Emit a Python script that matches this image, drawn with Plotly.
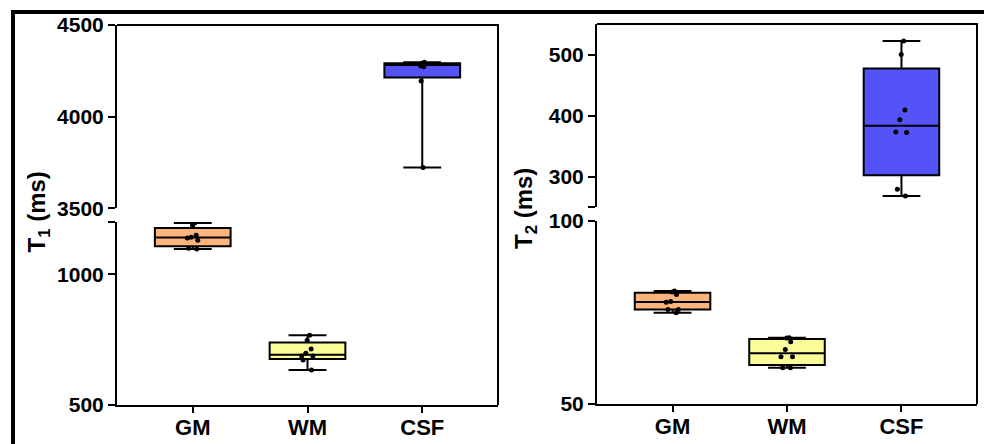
import numpy as np
import plotly.graph_objects as go

# ---------------- data ----------------
categories = ["GM", "WM", "CSF"]
box_colors = ["#FBB47C", "#FCFC98", "#5353F7"]

t1_gm = [1097, 1100, 1130, 1139, 1142, 1149, 1187, 1196]
t1_wm = [634, 672, 687, 687, 698, 714, 748, 767]
t1_csf = [3722, 4195, 4272, 4278, 4285, 4288, 4292, 4297]

t2_gm = [74.9, 75.8, 75.8, 77.8, 78.0, 79.9, 80.6, 80.9]
t2_wm = [59.9, 59.9, 62.9, 62.9, 64.9, 67.0, 68.0, 68.1]
t2_csf = [268, 279, 372, 373, 393, 409, 500, 522]

t1_lower_ticks = [500, 1000]
t1_lower_break = [1200]
t1_upper_ticks = [3500, 4000, 4500]
t2_lower_ticks = [50, 100]
t2_upper_ticks = [300, 400, 500]
t2_upper_break = [250]

t1_lower_range = [500, 1200]
t1_upper_range = [3500, 4500]
t2_lower_range = [50, 100]
t2_upper_range = [250, 550]

# ---------------- layout helpers ----------------
# the page body has an 8px margin, so the figure is 8px smaller than the window
OX, OY = 8, 8
W, H = 992 - OX, 444 - OY


def px_x(p):
    return (p - OX) / W


def px_y(p):
    return (H - (p - OY)) / H


FONT = "Liberation Sans, Arial, sans-serif"
BOX_W = 0.66


def stats(vals):
    v = np.asarray(vals, dtype=float)
    q1 = float(np.percentile(v, 25, method="weibull"))
    med = float(np.percentile(v, 50, method="weibull"))
    q3 = float(np.percentile(v, 75, method="weibull"))
    return q1, med, q3, float(v.min()), float(v.max())


fig = go.Figure()


def add_box(cat, vals, color, xa, ya):
    q1, med, q3, lo, hi = stats(vals)
    fig.add_trace(go.Box(
        x=[cat], q1=[q1], median=[med], q3=[q3], lowerfence=[lo], upperfence=[hi],
        width=BOX_W, fillcolor=color, line=dict(color="black", width=2),
        whiskerwidth=0.5, boxpoints=False, showlegend=False,
        xaxis=xa, yaxis=ya, hoverinfo="skip"))
    fig.add_trace(go.Box(
        x=[cat] * len(vals), y=vals, width=BOX_W,
        fillcolor="rgba(0,0,0,0)", line=dict(color="rgba(0,0,0,0)", width=0),
        boxpoints="all", jitter=0.2, pointpos=0,
        marker=dict(color="black", size=5, line=dict(width=0)),
        showlegend=False, xaxis=xa, yaxis=ya))


# left panel: T1
add_box("GM", t1_gm, box_colors[0], "x", "y")
add_box("WM", t1_wm, box_colors[1], "x", "y")
add_box("CSF", t1_csf, box_colors[2], "x", "y2")
# right panel: T2
add_box("GM", t2_gm, box_colors[0], "x2", "y3")
add_box("WM", t2_wm, box_colors[1], "x2", "y3")
add_box("CSF", t2_csf, box_colors[2], "x2", "y4")

tickfont_y = dict(family=FONT, size=21, color="black", weight="bold")
tickfont_x = dict(family=FONT, size=22, color="black", weight="bold")

xcommon = dict(type="category", categoryorder="array", categoryarray=categories,
               range=[-0.66, 2.66], showline=True, linewidth=2, linecolor="black",
               ticks="outside", ticklen=6, tickwidth=2, tickcolor="black",
               showgrid=False, zeroline=False, tickfont=tickfont_x, fixedrange=True,
               automargin=False, ticklabelstandoff=-4)
ycommon = dict(showline=True, linewidth=2, linecolor="black", ticks="outside",
               ticklen=7, tickwidth=2, tickcolor="black", showgrid=False,
               zeroline=False, tickfont=tickfont_y, tickmode="array", fixedrange=True,
               automargin=False)


def breakticks(vals):
    return dict(tickmode="array", tickvals=vals, ticks="outside", ticklen=7,
                tickwidth=2, tickcolor="black", showgrid=False)


L_x = [px_x(117), px_x(498)]
R_x = [px_x(597), px_x(977)]
L_lo = [px_y(405), px_y(222)]
L_hi = [px_y(208.3), px_y(25)]
R_lo = [px_y(404), px_y(221)]
R_hi = [px_y(207), px_y(24)]

fig.update_layout(
    template="none",
    width=W, height=H, margin=dict(l=0, r=0, t=0, b=0, pad=0, autoexpand=False),
    autosize=False,
    paper_bgcolor="white", plot_bgcolor="white", boxmode="overlay", showlegend=False,
    xaxis=dict(xcommon, domain=L_x, anchor="y"),
    xaxis2=dict(xcommon, domain=R_x, anchor="y3"),
    yaxis=dict(ycommon, domain=L_lo, range=t1_lower_range, anchor="x",
               tickvals=t1_lower_ticks, minor=breakticks(t1_lower_break)),
    yaxis2=dict(ycommon, domain=L_hi, range=t1_upper_range, anchor="x",
                tickvals=t1_upper_ticks),
    yaxis3=dict(ycommon, domain=R_lo, range=t2_lower_range, anchor="x2",
                tickvals=t2_lower_ticks),
    yaxis4=dict(ycommon, domain=R_hi, range=t2_upper_range, anchor="x2",
                tickvals=t2_upper_ticks, minor=breakticks(t2_upper_break)),
)

# plot frames (top and right edges of each panel)
shapes = []
for xd, lo, hi in [(L_x, L_lo, L_hi), (R_x, R_lo, R_hi)]:
    shapes.append(dict(type="line", xref="paper", yref="paper", x0=xd[0], x1=xd[1] + 1 / W,
                       y0=hi[1], y1=hi[1], line=dict(color="black", width=2)))
    shapes.append(dict(type="line", xref="paper", yref="paper", x0=xd[1], x1=xd[1],
                       y0=lo[0], y1=hi[1], line=dict(color="black", width=2)))
# outer border of the figure
shapes.append(dict(type="line", xref="paper", yref="paper", x0=px_x(13), x1=px_x(13),
                   y0=px_y(10), y1=0, line=dict(color="black", width=4)))
shapes.append(dict(type="line", xref="paper", yref="paper", x0=px_x(11), x1=1,
                   y0=px_y(12), y1=px_y(12), line=dict(color="black", width=4)))
shapes.append(dict(type="line", xref="paper", yref="paper", x0=px_x(990), x1=px_x(990),
                   y0=px_y(10), y1=0, line=dict(color="black", width=3)))
fig.update_layout(shapes=shapes)

title_font = dict(family=FONT, size=24, color="black", weight="bold")
fig.add_annotation(x=px_x(37.5), y=px_y(212), xref="paper", yref="paper",
                   text="T<sub>1</sub> (ms)", textangle=-90, showarrow=False,
                   font=title_font, xanchor="center", yanchor="middle")
fig.add_annotation(x=px_x(526), y=px_y(209), xref="paper", yref="paper",
                   text="T<sub>2</sub> (ms)", textangle=-90, showarrow=False,
                   font=title_font, xanchor="center", yanchor="middle")

fig.write_html("out.html", config={"displayModeBar": False})
